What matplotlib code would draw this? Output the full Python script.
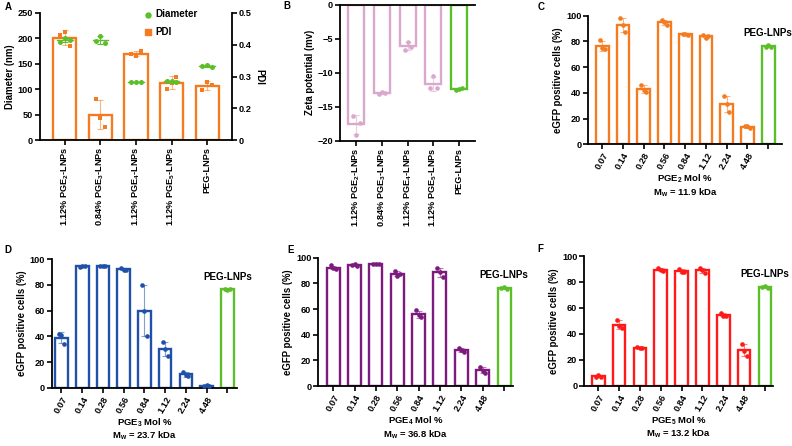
import numpy as np
import matplotlib
matplotlib.use('Agg')
import matplotlib.pyplot as plt

plt.rcParams['font.family'] = ['Liberation Sans', 'DejaVu Sans']
plt.rcParams['font.weight'] = 'bold'
plt.rcParams['axes.labelweight'] = 'bold'
plt.rcParams['mathtext.fontset'] = 'custom'
plt.rcParams['mathtext.rm'] = 'Liberation Sans:bold'
plt.rcParams['mathtext.it'] = 'Liberation Sans:bold'
plt.rcParams['mathtext.bf'] = 'Liberation Sans:bold'

# ---------------- data ----------------
a_labels = ['1.12% PGE$_2$-LNPs', '0.84% PGE$_3$-LNPs', '1.12% PGE$_4$-LNPs',
            '1.12% PGE$_5$-LNPs', 'PEG-LNPs']
a_diameter = [[192, 200, 197], [195, 205, 190], [114, 115, 114], [116, 116, 115], [145, 147, 144]]
a_pdi = [[0.43, 0.44, 0.395], [0.23, 0.17, 0.14], [0.37, 0.365, 0.38], [0.26, 0.28, 0.30],
         [0.258, 0.284, 0.272]]

b_labels = a_labels
b_zeta = [[-16.3, -19.1, -17.4], [-13.1, -12.8, -12.9], [-6.6, -5.4, -6.2],
          [-12.3, -10.5, -12.2], [-12.5, -12.4, -12.3]]

mol_labels = ['0.07', '0.14', '0.28', '0.56', '0.84', '1.12', '2.24', '4.48', '']
c_vals = [[81, 75, 74], [98, 93, 87], [46.5, 42, 41], [97, 95, 93], [86, 85.5, 85],
          [85, 83, 84], [37.5, 31, 25.5], [14, 14, 12.5], [76, 77, 75.5]]
d_vals = [[42, 41, 34], [94, 95, 94.5], [95, 95, 95], [93, 91.5, 92], [80, 60, 40],
          [35.5, 30, 24.5], [12.5, 10, 9], [1, 2, 1.5], [77, 76, 76.5]]
e_vals = [[94, 92, 91], [94, 95, 93.5], [95, 95, 95], [89.5, 86, 87.5], [59, 55, 54],
          [92, 89, 85], [30, 28, 26.5], [15, 12, 10], [76, 77, 75.5]]
f_vals = [[7, 8, 6.5], [51, 46, 44.5], [29.5, 29, 29], [91, 89, 88.5], [90, 88, 87.5],
          [91, 89, 87], [56, 54, 54], [32, 27, 23], [76, 77, 75.5]]

# ---------------- style ----------------
ORANGE = '#f47b20'
BLUE = '#2050a8'
PURPLE = '#7d1a7e'
RED = '#ff1a1a'
PINK = '#d9a8cc'
GREEN = '#5cbf2a'

W, H = 792, 446
fig = plt.figure(figsize=(W / 100, H / 100), dpi=100)


def add_ax(l, r, t, b):
    return fig.add_axes([l / W, 1 - b / H, (r - l) / W, (b - t) / H])


FS = 6.6
OFFS = np.array([-0.2, 0.0, 0.2])


def style_ax(ax):
    for s in ['left', 'bottom', 'top', 'right']:
        ax.spines[s].set_linewidth(1.3)
    ax.spines['top'].set_visible(False)
    ax.spines['right'].set_visible(False)
    ax.tick_params(width=1.2, length=3.5, labelsize=FS, pad=1.5)
    for t in ax.get_yticklabels() + ax.get_xticklabels():
        t.set_fontweight('bold')


def bars_with_points(ax, x, vals, colors, width, marker='o', lw=1.7, bottom=0):
    for xi, v, c in zip(x, vals, colors):
        v = np.asarray(v, float)
        m, sd = v.mean(), v.std(ddof=1)
        ax.bar(xi, m - bottom, bottom=bottom, width=width, facecolor='white', edgecolor=c,
               linewidth=lw, zorder=2)
        ax.errorbar(xi, m, yerr=sd, color=c, alpha=0.55, capsize=2.2, elinewidth=0.8,
                    capthick=0.8, zorder=3)
        ax.scatter(xi + OFFS * width, v, s=11, color=c, marker=marker, zorder=4,
                   linewidths=0)


# ---------------- Panel A ----------------
axA = add_ax(40, 232, 13, 140)
axA2 = axA.twinx()
xA = np.arange(len(a_labels))
bars_with_points(axA2, xA, a_pdi, [ORANGE] * 5, 0.65, marker='s', bottom=0.1)
axA2.set_ylim(0.1, 0.5)
axA2.set_yticks([0.1, 0.2, 0.3, 0.4, 0.5])
axA2.set_yticklabels(['0', '0.2', '0.3', '0.4', '0.5'])
axA2.set_ylabel('PDI', rotation=270, fontsize=FS + 0.3, labelpad=9)
for xi, v in zip(xA, a_diameter):
    v = np.asarray(v, float)
    m, sd = v.mean(), v.std(ddof=1)
    axA.errorbar(xi, m, yerr=sd, color=GREEN, capsize=2.2, elinewidth=0.8, capthick=0.8,
                 zorder=3)
    axA.plot([xi - 0.22, xi + 0.22], [m, m], color=GREEN, lw=1.0, zorder=3)
    axA.scatter(xi + OFFS * 0.65, v, s=13, color=GREEN, zorder=4, linewidths=0)
axA.set_zorder(axA2.get_zorder() + 1)
axA.patch.set_visible(False)
axA.set_ylim(0, 250)
axA.set_yticks([0, 50, 100, 150, 200, 250])
axA.set_xlim(-0.7, 4.7)
axA.set_xticks(xA)
axA.set_xticklabels(a_labels, rotation=90, fontsize=FS - 0.2)
axA.set_ylabel('Diameter (nm)', fontsize=FS + 0.3, labelpad=2)
style_ax(axA)
style_ax(axA2)
axA2.spines['right'].set_visible(True)
axA2.spines['left'].set_visible(False)
axA2.spines['bottom'].set_visible(False)
axA2.tick_params(axis='x', length=0)
axA.spines['right'].set_visible(False)
hd = axA.scatter([], [], s=13, color=GREEN, label='Diameter')
hp = axA.scatter([], [], s=13, color=ORANGE, marker='s', label='PDI')
axA.legend(handles=[hd, hp], loc='upper left', bbox_to_anchor=(0.49, 1.10), frameon=False,
           prop={'weight': 'bold', 'size': FS + 0.5}, handletextpad=0.3, labelspacing=0.8,
           handlelength=1.0)

# ---------------- Panel B ----------------
axB = add_ax(340, 475, 5, 140.7)
xB = np.arange(len(b_labels))
bars_with_points(axB, xB, b_zeta, [PINK] * 4 + [GREEN], 0.62)
axB.set_ylim(-20, 0)
axB.set_xlim(-0.64, 4.62)
axB.set_yticks([0, -5, -10, -15, -20])
axB.set_xticks(xB)
axB.set_xticklabels(b_labels, rotation=90, fontsize=FS - 0.2)
axB.set_ylabel('Zeta potential (mv)', fontsize=FS + 0.3, labelpad=2)
style_ax(axB)
axB.spines['top'].set_visible(True)


# ---------------- Panels C-F ----------------
def eg_panel(box, vals, color, sub, mw, xlim):
    ax = add_ax(*box)
    x = np.arange(len(mol_labels))
    bars_with_points(ax, x, vals, [color] * 8 + [GREEN], 0.61)
    ax.set_ylim(0, 100)
    ax.set_xlim(*xlim)
    ax.set_yticks([0, 20, 40, 60, 80, 100])
    ax.set_xticks(x)
    ax.set_xticklabels(mol_labels, rotation=60, ha='right', rotation_mode='anchor',
                       fontsize=FS)
    ax.set_ylabel('eGFP positive cells (%)', fontsize=FS + 0.3, labelpad=2)
    ax.set_xlabel('PGE$_%s$ Mol %%\nM$_w$ = %s kDa' % (sub, mw), fontsize=FS + 0.2,
                  labelpad=1, linespacing=1.15)
    style_ax(ax)
    pv = np.mean(vals[-1])
    ax.text(x[-1], pv + 10, 'PEG-LNPs', ha='center', va='center', fontsize=FS + 0.5,
            fontweight='bold')
    return ax


eg_panel((588.3, 781.7, 15.7, 144.3), c_vals, ORANGE, '2', '11.9', (-0.67, 8.65))
eg_panel((51.7, 237.3, 259.3, 387.7), d_vals, BLUE, '3', '23.7', (-0.47, 8.48))
eg_panel((318.3, 513, 257.7, 386), e_vals, PURPLE, '4', '36.8', (-0.7, 8.42))
eg_panel((584.3, 773.3, 256, 385.7), f_vals, RED, '5', '13.2', (-0.67, 8.4))

# panel letters
for lab, px, py in [('A', 5, 7), ('B', 283, 6), ('C', 538, 7), ('D', 4, 250), ('E', 287, 250),
                    ('F', 537, 249)]:
    fig.text(px / W, 1 - py / H, lab, fontsize=7, fontweight='bold', ha='left', va='center')

fig.savefig('out.png', dpi=100)
